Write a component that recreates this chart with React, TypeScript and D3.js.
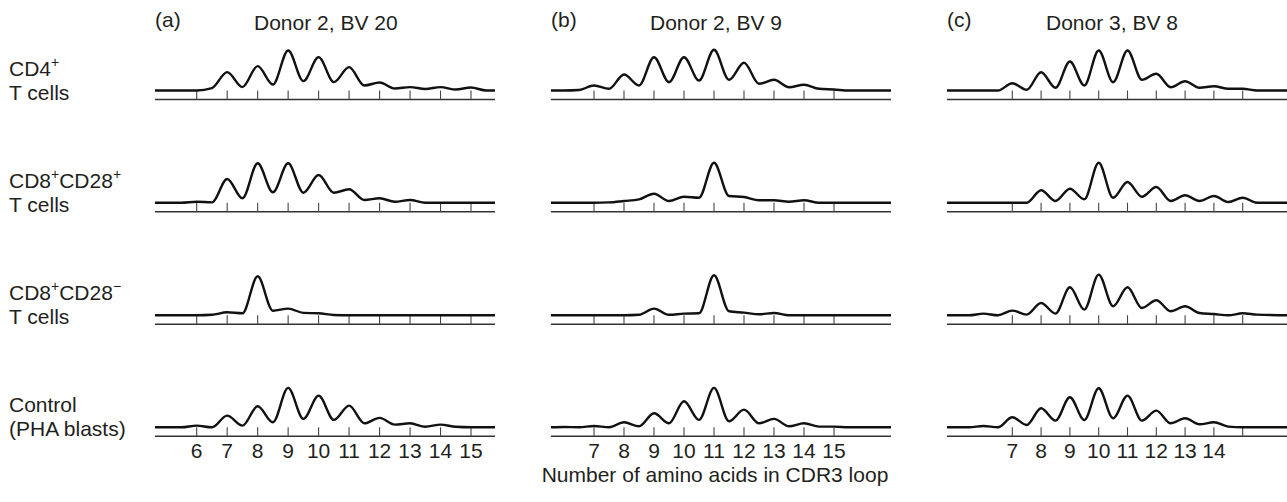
import React from "react";
import * as d3 from "d3";

// CDR3 lengths at which the traces were read (peaks on whole numbers, valleys between)
const lengths = [5.5, 6, 6.5, 7, 7.5, 8, 8.5, 9, 9.5, 10, 10.5, 11, 11.5, 12, 12.5, 13, 13.5, 14, 14.5, 15, 15.5];

// (a) Donor 2, BV 20
const aCd4 = [0, 0, 2.4, 18.4, 3.4, 24.4, 6, 40, 9.4, 33.4, 8.4, 23.4, 5, 8, 2, 3.4, 1.5, 3.4, 1, 3, 0];
const aCd28pos = [0, 1, 0.3, 23.7, 4.4, 39.4, 10.4, 39.4, 10, 27.7, 10, 13.4, 2.7, 4.4, 1, 2.7, 0, 0, 0, 0, 0];
const aCd28neg = [0, 0, 0.5, 3, 2, 39, 4.5, 6.7, 2.4, 2, 0.3, 0, 0, 0, 0, 0, 0, 0, 0, 0, 0];
const aPha = [0, 1.7, 0, 11.7, 1.7, 21, 5, 39.4, 8.4, 31.7, 7.4, 21.7, 4, 9.4, 2.7, 4, 0.5, 2.7, 0.5, 0, 0];

// (b) Donor 2, BV 9
const bCd4 = [0, 0, 0.5, 5, 1.7, 16, 5, 33.3, 8.3, 33.3, 10, 40.7, 10.7, 27.7, 6.7, 10.7, 3.3, 5.7, 1.7, 1, 0];
const bCd28pos = [0, 0, 0, 0, 0.3, 1.7, 3.3, 9, 1.7, 6, 5, 40, 6.7, 5.7, 2.4, 2.4, 1, 2.4, 0, 0, 0];
const bCd28neg = [0, 0, 0, 0, 0, 0, 0.5, 6.7, 0.5, 1.7, 2, 40, 4, 2.7, 1, 2.3, 0, 0, 0, 0, 0];
const bPha = [0.5, 0.3, 0, 1.3, 0, 5, 1, 14, 4, 26, 7.4, 39.4, 6, 17.7, 4, 8.4, 1, 4, 0.7, 0.7, 0];

// (c) Donor 3, BV 8
const cCd4 = [0, 0, 0, 7.3, 0.7, 18.3, 2.7, 29, 5, 40, 8.3, 40, 10.7, 16.7, 3.3, 9.3, 2.7, 4.3, 1.7, 1.7, 0];
const cCd28pos = [0, 0, 0, 0, 0, 12.4, 1.7, 14, 3.4, 40, 5, 20.7, 6, 15.7, 1.7, 7.4, 1.7, 6.7, 0.7, 5, 0];
const cCd28neg = [0, 1.7, 0, 4.7, 0.7, 12.3, 1.7, 28, 5.7, 40.7, 9, 28, 7.3, 15, 4, 9, 2.3, 1.3, 0, 2, 0.7];
const cPha = [0, 1.3, 0, 10, 2.3, 19, 6.7, 30, 7.3, 39, 9, 31.7, 6.7, 16.7, 4, 9, 3, 5, 0.7, 0, 0];

const panelTags = ["(a)", "(b)", "(c)"];
const panelTitles = ["Donor 2, BV 20", "Donor 2, BV 9", "Donor 3, BV 8"];
const ticksA = [6, 7, 8, 9, 10, 11, 12, 13, 14, 15];
const ticksBC = [7, 8, 9, 10, 11, 12, 13, 14, 15];
const labelsA = [6, 7, 8, 9, 10, 11, 12, 13, 14, 15];
const labelsB = [7, 8, 9, 10, 11, 12, 13, 14, 15];
const labelsC = [7, 8, 9, 10, 11, 12, 13, 14];
const xTitle = "Number of amino acids in CDR3 loop";

const traces = [
  [aCd4, aCd28pos, aCd28neg, aPha],
  [bCd4, bCd28pos, bCd28neg, bPha],
  [cCd4, cCd28pos, cCd28neg, cPha],
];

// layout: tick span in px, and full axis extent per panel
const panels = [
  { t0: 6, t1: 15, p0: 196.7, p1: 471, left: 155, right: 495, ticks: ticksA, labels: labelsA },
  { t0: 7, t1: 15, p0: 594, p1: 834, left: 551, right: 891, ticks: ticksBC, labels: labelsB },
  { t0: 7, t1: 15, p0: 1012.3, p1: 1242.7, left: 947, right: 1287, ticks: ticksBC, labels: labelsC },
];
const axisY = [99.5, 211.7, 324.3, 436.3];
const lift = 9;

const FONT = "'Liberation Sans', Arial, Helvetica, sans-serif";
const INK = "#231f20";

function RowLabel({ row, y }: { row: number; y: number }) {
  const sup = { fontSize: 14 };
  const first =
    row === 0 ? (
      <>CD4<tspan dy={-9} {...sup}>+</tspan></>
    ) : row === 1 ? (
      <>CD8<tspan dy={-9} {...sup}>+</tspan><tspan dy={9}>CD28</tspan><tspan dy={-9} {...sup}>+</tspan></>
    ) : row === 2 ? (
      <>CD8<tspan dy={-9} {...sup}>+</tspan><tspan dy={9}>CD28</tspan><tspan dy={-9} {...sup}>−</tspan></>
    ) : (
      <>Control</>
    );
  const second = row === 3 ? "(PHA blasts)" : "T cells";
  return (
    <g fontFamily={FONT} fontSize={21} fill={INK}>
      <text x={9} y={y - 24}>{first}</text>
      <text x={9} y={y}>{second}</text>
    </g>
  );
}

export default function App() {
  return (
    <svg width={1287} height={502} style={{ position: "absolute", left: 0, top: 0, background: "#fff" }}>
      {panels.map((p, pi) => {
        const x = d3.scaleLinear().domain([p.t0, p.t1]).range([p.p0, p.p1]);
        const lo = x.invert(p.left);
        const hi = x.invert(p.right);
        return (
          <g key={pi}>
            <text x={p.left} y={27} fontFamily={FONT} fontSize={21} fill={INK}>{panelTags[pi]}</text>
            <text x={p.left + 99} y={30} fontFamily={FONT} fontSize={21} fill={INK}>{panelTitles[pi]}</text>
            {axisY.map((ay, ri) => {
              const base = ay - lift;
              const y = d3.scaleLinear().domain([0, 40]).range([base, base - 40]);
              const vals = traces[pi][ri];
              const pts: [number, number][] = [[lo, 0]];
              lengths.forEach((l, i) => {
                if (l > lo && l < hi) pts.push([l, vals[i]]);
              });
              pts.push([hi, 0]);
              const line = d3
                .line<[number, number]>()
                .x((d) => x(d[0]))
                .y((d) => y(d[1]))
                .curve(d3.curveMonotoneX);
              return (
                <g key={ri}>
                  <line x1={p.left} x2={p.right} y1={ay} y2={ay} stroke="#333" strokeWidth={1.6} />
                  {p.ticks.map((t) => (
                    <line key={t} x1={x(t)} x2={x(t)} y1={ay} y2={base} stroke="#444" strokeWidth={1.1} />
                  ))}
                  <path d={line(pts) || ""} fill="none" stroke="#111" strokeWidth={2.4} strokeLinejoin="round" />
                  {ri === 3 &&
                    p.labels.map((t) => (
                      <text key={t} x={x(t)} y={ay + 22} textAnchor="middle" fontFamily={FONT} fontSize={21} fill={INK}>
                        {t}
                      </text>
                    ))}
                </g>
              );
            })}
          </g>
        );
      })}
      {axisY.map((ay, ri) => (
        <RowLabel key={ri} row={ri} y={ay} />
      ))}
      <text x={715} y={482} textAnchor="middle" fontFamily={FONT} fontSize={21} fill={INK}>{xTitle}</text>
    </svg>
  );
}
